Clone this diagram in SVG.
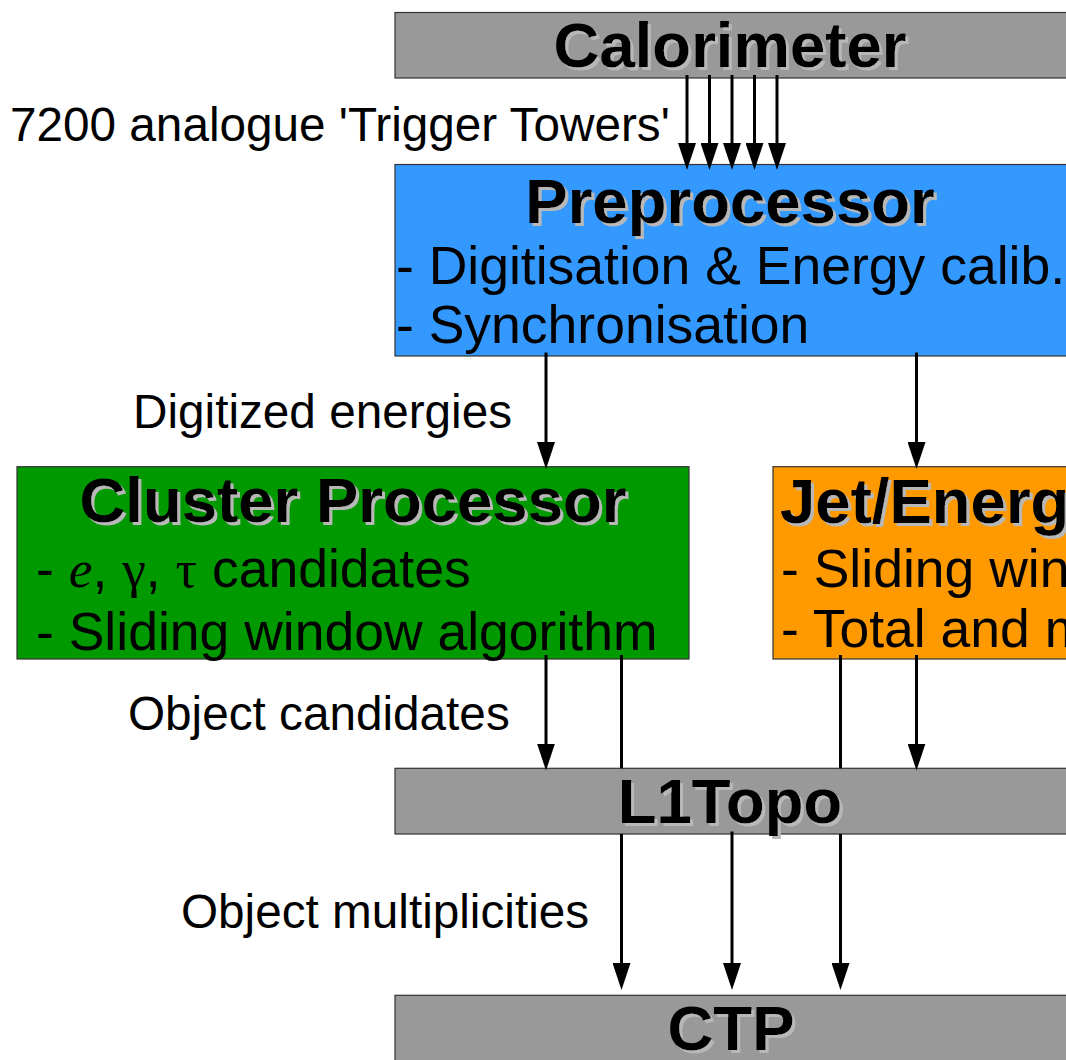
<svg xmlns="http://www.w3.org/2000/svg" width="1066" height="1060" viewBox="0 0 1066 1060">
<style>
.box{stroke:#333333;stroke-width:1.2}
.gray{fill:#999999}
.blue{fill:#3399ff}
.green{fill:#009900}
.orange{fill:#ff9900}
.title{font-family:"Liberation Sans",Arial,sans-serif;font-weight:bold;font-size:63.5px;fill:#000}
.body{font-family:"Liberation Sans",Arial,sans-serif;font-size:53.5px;fill:#000}
.greek{font-family:"Liberation Serif","Times New Roman",serif}
.label{font-family:"Liberation Sans",Arial,sans-serif;font-size:47.7px;fill:#000}
.conn{stroke:#000;stroke-width:3;fill:none}
</style>
<defs>
<filter id="sh" x="-5%" y="-10%" width="115%" height="140%">
<feFlood flood-color="#b8b8b8" result="f"/>
<feComposite in="f" in2="SourceAlpha" operator="in" result="c"/>
<feOffset in="c" dx="3" dy="3" result="s"/>
<feMerge><feMergeNode in="s"/><feMergeNode in="SourceGraphic"/></feMerge>
</filter>
<marker id="arr" markerUnits="userSpaceOnUse" markerWidth="28" markerHeight="18" viewBox="0 0 28 18" refX="17" refY="9" orient="auto">
<path d="M0,0 L27,9 L0,18 Z" fill="#000"/>
</marker>
</defs>

<g id="calorimeter">
<rect class="box gray" x="395" y="12.5" width="672" height="65.5"/>
<text class="title" x="730" y="67" text-anchor="middle" filter="url(#sh)">Calorimeter</text>
</g>

<g id="label-towers">
<text class="label" x="10" y="141">7200 analogue 'Trigger Towers'</text>
</g>

<g id="preprocessor">
<rect class="box blue" x="395" y="164.5" width="672" height="191.5"/>
<text class="title" x="730" y="223" text-anchor="middle" filter="url(#sh)">Preprocessor</text>
<text class="body" x="396" y="284">- Digitisation &amp; Energy calib.</text>
<text class="body" x="396" y="343">- Synchronisation</text>
</g>

<g id="label-digitized">
<text class="label" x="133" y="428">Digitized energies</text>
</g>

<g id="cluster-processor">
<rect class="box green" x="17" y="466.7" width="672" height="192.3"/>
<text class="title" x="353" y="522" text-anchor="middle" filter="url(#sh)">Cluster Processor</text>
<text class="body" x="36" y="587">- <tspan class="greek" font-style="italic">e</tspan>, <tspan class="greek">γ</tspan>, <tspan class="greek">τ</tspan> candidates</text>
<text class="body" x="36" y="650">- Sliding window algorithm</text>
</g>

<g id="jet-energy-processor">
<rect class="box orange" x="773" y="466.7" width="672" height="192.3"/>
<text class="title" x="780" y="523" filter="url(#sh)">Jet/Energ</text>
<text class="body" x="781" y="587">- Sliding win</text>
<text class="body" x="781" y="647">- Total and m</text>
</g>

<g id="label-objects">
<text class="label" x="128" y="730">Object candidates</text>
</g>

<g id="l1topo">
<rect class="box gray" x="395" y="768.3" width="672" height="65.7"/>
<text class="title" x="730" y="823" text-anchor="middle" filter="url(#sh)">L1Topo</text>
</g>

<g id="label-multiplicities">
<text class="label" x="181" y="928">Object multiplicities</text>
</g>

<g id="ctp">
<rect class="box gray" x="395" y="995.3" width="672" height="80"/>
<text class="title" x="731" y="1050" text-anchor="middle" filter="url(#sh)">CTP</text>
</g>

<g id="connectors">
<line class="conn" x1="687" y1="75" x2="687" y2="160" marker-end="url(#arr)"/>
<line class="conn" x1="709.5" y1="75" x2="709.5" y2="160" marker-end="url(#arr)"/>
<line class="conn" x1="732" y1="75" x2="732" y2="160" marker-end="url(#arr)"/>
<line class="conn" x1="754.5" y1="75" x2="754.5" y2="160" marker-end="url(#arr)"/>
<line class="conn" x1="777" y1="75" x2="777" y2="160" marker-end="url(#arr)"/>

<line class="conn" x1="546" y1="352.5" x2="546" y2="459" marker-end="url(#arr)"/>
<line class="conn" x1="916.5" y1="352.5" x2="916.5" y2="459" marker-end="url(#arr)"/>

<line class="conn" x1="546" y1="655" x2="546" y2="760.5" marker-end="url(#arr)"/>
<line class="conn" x1="916.5" y1="655" x2="916.5" y2="760.5" marker-end="url(#arr)"/>
<line class="conn" x1="621.5" y1="655" x2="621.5" y2="768.3"/>
<line class="conn" x1="840.5" y1="655" x2="840.5" y2="768.3"/>

<line class="conn" x1="621.5" y1="834" x2="621.5" y2="980" marker-end="url(#arr)"/>
<line class="conn" x1="732" y1="831.5" x2="732" y2="980" marker-end="url(#arr)"/>
<line class="conn" x1="840.5" y1="834" x2="840.5" y2="980" marker-end="url(#arr)"/>
</g>
</svg>
